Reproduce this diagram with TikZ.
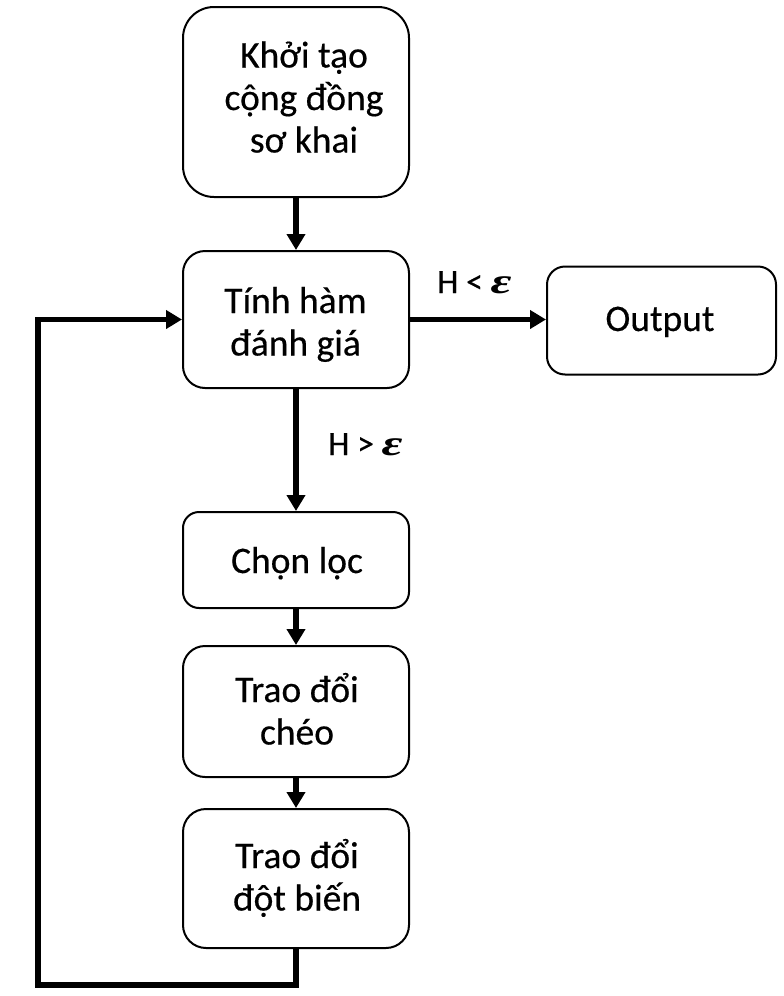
\documentclass[tikz,border=0pt]{standalone}
\usepackage{fontspec}
\setmainfont{Carlito}
\newfontfamily\boxfont{Carlito}[FakeBold=0.4]
\newfontfamily\epsfont{Liberation Serif}
\newcommand{\mylines}[1]{\vtop{\halign{\hfil##\hfil\cr #1\crcr}}}
\newcommand{\eps}{{\epsfont\bfseries\itshape\scalebox{1.5}[1.05]{ε}}}
\usetikzlibrary{arrows.meta}
\begin{document}
\begin{tikzpicture}[x=1pt,y=-1pt,
  box/.style={draw, line width=2pt, rounded corners=#1, inner sep=0pt},
  conn/.style={line width=5.5pt, -{Triangle[width=18pt,length=16pt]}},
  txt/.style={font=\boxfont\fontsize{37.5}{42.5}\selectfont, anchor=base, inner sep=0pt},
  lbl/.style={font=\boxfont\fontsize{34}{40}\selectfont, anchor=base west, inner sep=0pt}]
\useasboundingbox (0,0) rectangle (784,996);
\node[box=31pt, minimum width=226pt, minimum height=190pt] (b1) at (296,102) {};
\node[box=22pt, minimum width=226pt, minimum height=137pt] (b2) at (296,319.5) {};
\node[box=18pt, minimum width=229pt, minimum height=108pt] (out) at (661.5,320.5) {};
\node[box=16pt, minimum width=226pt, minimum height=96pt] (b3) at (296,560) {};
\node[box=22pt, minimum width=226pt, minimum height=131pt] (b4) at (296,711.5) {};
\node[box=23pt, minimum width=226pt, minimum height=139pt] (b5) at (296,878.5) {};
\node[txt] (t1) at (304,67.5) {\mylines{Khởi tạo\cr cộng đồng\cr sơ khai}};
\node[txt] (t2) at (295.5,313) {\mylines{Tính hàm\cr đánh giá}};
\node[txt] (t0) at (660,331) {Output};
\node[txt] (t3) at (297,573) {Chọn lọc};
\node[txt] (t4) at (297,702) {\mylines{Trao đổi\cr chéo}};
\node[txt] (t5) at (297,868) {\mylines{Trao đổi\cr đột biến}};
\draw[conn] (b1.south) -- (b2.north);
\draw[conn] (b2.east) -- (b2.east -| out.west);
\draw[conn] (b2.south) -- (b3.north);
\draw[conn] (b3.south) -- (b4.north);
\draw[conn] (b4.south) -- (b5.north);
\coordinate (lb) at (38,985);
\draw[conn] (b5.south) |- (lb) |- (b2.west);
\node[lbl] (l1) at (437,293) {H < \eps};
\node[lbl] (l2) at (328,455) {H > \eps};
\end{tikzpicture}
\end{document}
